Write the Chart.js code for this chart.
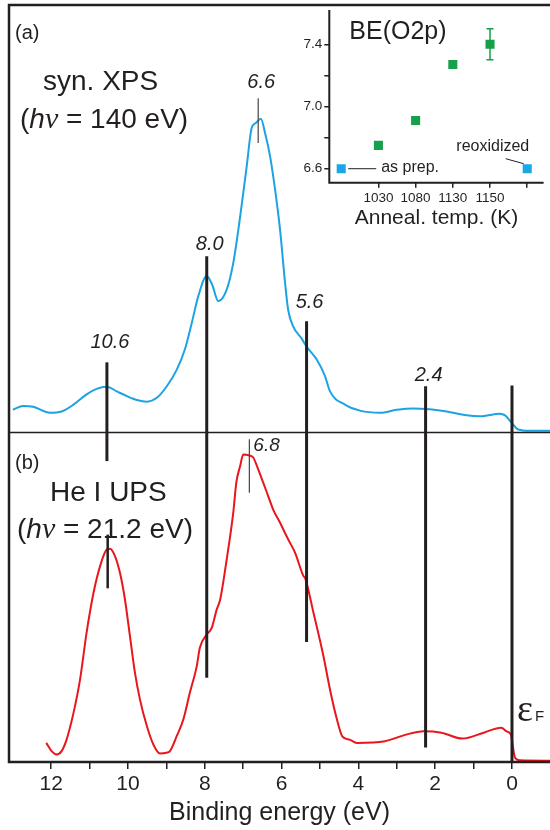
<!DOCTYPE html>
<html>
<head>
<meta charset="utf-8">
<script src="https://cdn.jsdelivr.net/npm/chart.js@4.4.0/dist/chart.umd.min.js"></script>
<style>
  html, body { margin: 0; padding: 0; background: #fff; overflow: hidden; }
  #wrap { position: relative; width: 550px; height: 830px; }
  #main { position: absolute; left: 0; top: 0; }
  #inset { position: absolute; left: 300px; top: 0; }
</style>
</head>
<body>
<div id="wrap">
  <canvas id="main" width="550" height="830"></canvas>
  <canvas id="inset" width="250" height="235"></canvas>
</div>
<script>
// binding energy (eV) vs intensity (arb. units, 0-100 per panel)
const xpsEnergy = [13.0, 12.73, 12.47, 12.03, 11.73, 11.42, 11.08, 10.82, 10.55, 10.29, 10.03, 9.77, 9.51, 9.25, 8.99, 8.73, 8.52, 8.34, 8.17, 7.95, 7.81, 7.65, 7.43, 7.26, 7.08, 6.91, 6.78, 6.67, 6.54, 6.43, 6.30, 6.17, 6.04, 5.91, 5.83, 5.70, 5.48, 5.35, 5.09, 4.87, 4.74, 4.35, 3.96, 3.44, 3.00, 2.57, 2.14, 1.70, 1.18, 0.83, 0.31, 0.18, 0.01, -0.16, -0.47, -0.99];
const xpsIntensity = [5.3, 6.2, 6.0, 4.6, 4.9, 6.5, 8.9, 10.2, 10.7, 9.6, 8.5, 7.6, 7.2, 8.1, 10.8, 14.7, 19.4, 25.6, 31.9, 36.6, 34.6, 30.7, 33.4, 39.6, 50.5, 62.2, 71.2, 72.4, 73.4, 70.0, 64.6, 56.8, 47.4, 35.0, 28.7, 24.8, 22.0, 20.1, 17.1, 13.2, 9.6, 6.5, 5.1, 4.6, 5.3, 5.6, 5.4, 4.9, 4.0, 3.8, 4.4, 4.0, 2.3, 0.7, 0.4, 0.4];

const upsEnergy = [12.13, 11.99, 11.86, 11.73, 11.60, 11.42, 11.25, 11.08, 10.90, 10.70, 10.55, 10.47, 10.34, 10.21, 10.08, 9.95, 9.82, 9.69, 9.51, 9.34, 9.17, 9.00, 8.91, 8.73, 8.56, 8.39, 8.21, 8.13, 7.95, 7.82, 7.69, 7.60, 7.43, 7.26, 7.18, 7.08, 7.00, 6.84, 6.74, 6.61, 6.48, 6.35, 6.22, 6.04, 5.87, 5.78, 5.65, 5.43, 5.39, 5.17, 4.91, 4.74, 4.57, 4.42, 4.23, 4.04, 3.31, 2.76, 2.30, 1.84, 1.29, 0.74, 0.28, 0.14, 0.03, -0.08, -0.21, -0.99];
const upsIntensity = [5.8, 3.3, 2.3, 3.3, 6.8, 14.9, 25.0, 39.2, 51.3, 60.5, 64.5, 64.7, 62.5, 57.4, 49.3, 38.2, 27.1, 19.0, 10.9, 5.3, 2.6, 2.8, 3.3, 7.9, 12.9, 21.0, 29.1, 34.7, 38.7, 40.7, 46.3, 49.3, 61.5, 75.6, 84.8, 89.8, 93.3, 93.0, 92.4, 88.8, 84.8, 80.7, 76.6, 72.6, 68.5, 66.5, 63.5, 56.4, 55.9, 45.3, 32.1, 22.0, 13.4, 7.8, 6.8, 5.8, 6.3, 8.3, 9.3, 8.9, 7.1, 8.9, 10.4, 9.3, 8.3, 1.3, 0.5, 0.4];

// long marker lines running through both panels
const peakEnergy = [10.55, 7.95, 5.35, 2.25, 0];
const peakLabel = ['10.6', '8.0', '5.6', '2.4', ''];
const peakTopXps = [16.4, 41.2, 26.0, 10.8, 11.0];
const peakLabelXps = [21.0, 43.9, 30.3, 13.3, 0];
const peakBottomUps = [91.3, 25.6, 36.4, 4.4, 0];

// short peak ticks
const xpsTickE = 6.61, xpsTickRange = [67.7, 78.2], xpsTickLabel = '6.6', xpsTickLabelY = 81.9;
const upsTickE = [6.84, 10.53];
const upsTickRange = [[81.7, 97.9], [52.7, 69.0]];
const upsTickLabel = ['6.8', ''];

const energyTicks = [0, 1, 2, 3, 4, 5, 6, 7, 8, 9, 10, 11, 12];

// inset: BE(O2p)
const annealTemp = ['as prep.', '1030', '1080', '1130', '1150', 'reoxidized'];
const beO2p = [6.60, 6.75, 6.91, 7.27, 7.40, 6.60];
const beError = [0, 0, 0, 0, 0.10, 0];
const beTicks = [6.6, 6.8, 7.0, 7.2, 7.4];

const SANS = '"Liberation Sans", Arial, Helvetica, sans-serif';
const SERIF = '"Liberation Serif", "Times New Roman", serif';
const INK = '#231f20';

function drawRuns(ctx, runs, x, y) {
  let cx = x;
  runs.forEach(([text, font]) => {
    ctx.font = font;
    ctx.fillText(text, cx, y);
    cx += ctx.measureText(text).width;
  });
}

const frame = {
  id: 'frame',
  afterDatasetsDraw(chart) {
    const { ctx, chartArea: { left, right, top, bottom } } = chart;
    const sep = chart.scales.yX.bottom;
    ctx.save();
    ctx.strokeStyle = INK;
    ctx.lineWidth = 2.5;
    ctx.beginPath();
    ctx.moveTo(right, top);
    ctx.lineTo(left, top);
    ctx.lineTo(left, bottom);
    ctx.lineTo(right, bottom);
    ctx.stroke();
    ctx.lineWidth = 1.5;
    ctx.beginPath();
    ctx.moveTo(left, sep);
    ctx.lineTo(right, sep);
    ctx.stroke();
    ctx.restore();
  }
};

const markers = {
  id: 'markers',
  afterDatasetsDraw(chart) {
    const { ctx, scales: { x, yX, yU } } = chart;
    ctx.save();
    ctx.strokeStyle = INK;
    ctx.fillStyle = INK;
    ctx.textAlign = 'center';
    ctx.textBaseline = 'middle';
    ctx.font = 'italic 20px ' + SANS;
    peakEnergy.forEach((e, i) => {
      const px = x.getPixelForValue(e);
      ctx.lineWidth = 3;
      ctx.beginPath();
      ctx.moveTo(px, yX.getPixelForValue(peakTopXps[i]));
      ctx.lineTo(px, yU.getPixelForValue(peakBottomUps[i]));
      ctx.stroke();
      if (peakLabel[i]) ctx.fillText(peakLabel[i], px + 3, yX.getPixelForValue(peakLabelXps[i]));
    });

    // thin tick on the XPS main peak
    let px = x.getPixelForValue(xpsTickE);
    ctx.lineWidth = 1.2;
    ctx.strokeStyle = '#444';
    ctx.beginPath();
    ctx.moveTo(px, yX.getPixelForValue(xpsTickRange[0]));
    ctx.lineTo(px, yX.getPixelForValue(xpsTickRange[1]));
    ctx.stroke();
    ctx.fillText(xpsTickLabel, px + 3, yX.getPixelForValue(xpsTickLabelY));

    // ticks on the UPS peaks
    upsTickE.forEach((e, i) => {
      px = x.getPixelForValue(e);
      ctx.lineWidth = i === 0 ? 1.2 : 2.5;
      ctx.strokeStyle = i === 0 ? '#444' : INK;
      ctx.beginPath();
      ctx.moveTo(px, yU.getPixelForValue(upsTickRange[i][0]));
      ctx.lineTo(px, yU.getPixelForValue(upsTickRange[i][1]));
      ctx.stroke();
      if (upsTickLabel[i]) {
        ctx.textAlign = 'left';
        ctx.font = 'italic 19px ' + SANS;
        ctx.fillText(upsTickLabel[i], px + 4, yU.getPixelForValue(upsTickRange[i][1]) + 6);
      }
    });
    ctx.restore();
  }
};

const panelText = {
  id: 'panelText',
  afterDraw(chart) {
    const ctx = chart.ctx;
    ctx.save();
    ctx.fillStyle = INK;
    ctx.textAlign = 'left';
    ctx.textBaseline = 'middle';
    ctx.font = '20px ' + SANS;
    ctx.fillText('(a)', 15, 33);
    ctx.fillText('(b)', 15, 463);
    ctx.font = '28px ' + SANS;
    ctx.fillText('syn. XPS', 43, 82);
    ctx.fillText('He I UPS', 50, 493);
    const s = '28px ' + SANS, it = 'italic 28px ' + SANS, gr = 'italic 30px ' + SERIF;
    drawRuns(ctx, [['(', s], ['h', it], ['\u03bd', gr], [' = 140 eV)', s]], 20, 120);
    drawRuns(ctx, [['(', s], ['h', it], ['\u03bd', gr], [' = 21.2 eV)', s]], 17, 530);
    ctx.font = '38px ' + SERIF;
    ctx.fillText('\u03b5', 517, 711);
    ctx.font = '15px ' + SANS;
    ctx.fillText('F', 535, 717);
    ctx.restore();
  }
};

new Chart(document.getElementById('main'), {
  type: 'line',
  data: {
    datasets: [
      {
        label: 'syn. XPS',
        data: xpsEnergy.map((e, i) => ({ x: e, y: xpsIntensity[i] })),
        yAxisID: 'yX',
        borderColor: '#1ba3e3',
        borderWidth: 2,
        pointRadius: 0,
        cubicInterpolationMode: 'monotone'
      },
      {
        label: 'He I UPS',
        data: upsEnergy.map((e, i) => ({ x: e, y: upsIntensity[i] })),
        yAxisID: 'yU',
        borderColor: '#e8161d',
        borderWidth: 2,
        pointRadius: 0,
        cubicInterpolationMode: 'monotone'
      }
    ]
  },
  options: {
    responsive: false,
    animation: false,
    events: [],
    layout: { padding: { left: 9, top: 5, right: 0, bottom: 0 } },
    plugins: { legend: { display: false }, tooltip: { enabled: false } },
    scales: {
      x: {
        type: 'linear',
        position: 'bottom',
        reverse: true,
        min: -0.99,
        max: 13.1,
        afterBuildTicks: (s) => { s.ticks = energyTicks.map(v => ({ value: v })); },
        afterFit: (s) => { s.height = 68; },
        grid: { drawOnChartArea: false, tickLength: 7, color: INK, lineWidth: 1.5 },
        border: { display: false },
        ticks: {
          padding: 3,
          color: INK,
          font: { family: SANS, size: 21 },
          maxRotation: 0,
          autoSkip: false,
          callback: (v) => (v % 2 === 0 ? String(v) : '')
        },
        title: {
          display: true,
          text: 'Binding energy (eV)',
          color: INK,
          font: { family: SANS, size: 25 },
          padding: { top: 0, bottom: 2 }
        }
      },
      // stacked panels: the one listed first ends up at the bottom
      yU: {
        type: 'linear',
        position: 'left',
        stack: 'spec',
        stackWeight: 330,
        min: 0,
        max: 100,
        ticks: { display: false },
        grid: { display: false },
        border: { display: false },
        afterFit: (s) => { s.width = 0; }
      },
      yX: {
        type: 'linear',
        position: 'left',
        stack: 'spec',
        stackWeight: 428,
        min: 0,
        max: 100,
        ticks: { display: false },
        grid: { display: false },
        border: { display: false },
        afterFit: (s) => { s.width = 0; }
      }
    }
  },
  plugins: [frame, markers, panelText]
});

// ---- inset ----
const insetDecor = {
  id: 'insetDecor',
  beforeDatasetsDraw(chart) {
    const { ctx, chartArea: { left, right, top, bottom } } = chart;
    ctx.save();
    ctx.fillStyle = '#fff';
    ctx.fillRect(left, top, right - left, bottom - top);
    ctx.strokeStyle = INK;
    ctx.lineWidth = 2;
    ctx.beginPath();
    ctx.moveTo(left, top);
    ctx.lineTo(left, bottom);
    ctx.lineTo(right, bottom);
    ctx.stroke();
    ctx.fillStyle = INK;
    ctx.textAlign = 'left';
    ctx.textBaseline = 'middle';
    ctx.font = '25px ' + SANS;
    ctx.fillText('BE(O2p)', left + 20, top + 22);
    ctx.restore();
  },
  afterDatasetsDraw(chart) {
    const { ctx, scales: { x, y } } = chart;
    ctx.save();
    // error bars
    ctx.strokeStyle = '#16a04b';
    ctx.lineWidth = 1.5;
    beError.forEach((err, i) => {
      if (!err) return;
      const px = x.getPixelForValue(i);
      const y1 = y.getPixelForValue(beO2p[i] + err), y2 = y.getPixelForValue(beO2p[i] - err);
      ctx.beginPath();
      ctx.moveTo(px, y1); ctx.lineTo(px, y2);
      ctx.moveTo(px - 3.5, y1); ctx.lineTo(px + 3.5, y1);
      ctx.moveTo(px - 3.5, y2); ctx.lineTo(px + 3.5, y2);
      ctx.stroke();
    });
    // annotations
    ctx.strokeStyle = INK;
    ctx.fillStyle = INK;
    ctx.lineWidth = 1;
    ctx.font = '16px ' + SANS;
    ctx.textBaseline = 'middle';
    const ax = x.getPixelForValue(0), ay = y.getPixelForValue(beO2p[0]);
    ctx.beginPath(); ctx.moveTo(ax + 7, ay); ctx.lineTo(ax + 35, ay); ctx.stroke();
    ctx.textAlign = 'left';
    ctx.fillText(annealTemp[0], ax + 40, ay - 1.5);
    const rx = x.getPixelForValue(5), ry = y.getPixelForValue(beO2p[5]);
    ctx.beginPath(); ctx.moveTo(rx - 21.5, ry - 10); ctx.lineTo(rx - 3.5, ry - 5); ctx.stroke();
    ctx.textAlign = 'right';
    ctx.fillText(annealTemp[5], rx + 2, ry - 22.5);
    ctx.restore();
  }
};

new Chart(document.getElementById('inset'), {
  type: 'scatter',
  data: {
    datasets: [
      {
        label: 'reference',
        data: [0, 5].map(i => ({ x: i, y: beO2p[i] })),
        pointStyle: 'rect',
        pointRadius: 6.4,
        backgroundColor: '#1aa7e8',
        borderWidth: 0
      },
      {
        label: 'annealed',
        data: [1, 2, 3, 4].map(i => ({ x: i, y: beO2p[i] })),
        pointStyle: 'rect',
        pointRadius: 6.4,
        backgroundColor: '#16a04b',
        borderWidth: 0
      }
    ]
  },
  options: {
    responsive: false,
    animation: false,
    events: [],
    layout: { padding: { left: 0, top: 5, right: 0, bottom: 0 } },
    plugins: { legend: { display: false }, tooltip: { enabled: false } },
    scales: {
      x: {
        type: 'linear',
        min: -0.32,
        max: 5.44,
        afterBuildTicks: (s) => { s.ticks = [1, 2, 3, 4, 5].map(v => ({ value: v })); },
        afterFit: (s) => { s.height = 52.3; },
        grid: { drawOnChartArea: false, tickLength: 5, color: INK, lineWidth: 1.5 },
        border: { display: false },
        ticks: {
          padding: 2,
          color: INK,
          font: { family: SANS, size: 13.5 },
          maxRotation: 0,
          autoSkip: false,
          callback: (v) => (v >= 1 && v <= 4 ? annealTemp[v] : '')
        },
        title: {
          display: true,
          text: 'Anneal. temp. (K)',
          color: INK,
          font: { family: SANS, size: 21 },
          padding: { top: 0, bottom: 4 }
        }
      },
      y: {
        type: 'linear',
        min: 6.51,
        max: 7.62,
        afterBuildTicks: (s) => { s.ticks = beTicks.map(v => ({ value: v })); },
        afterFit: (s) => { s.width = 29.3; },
        grid: { drawOnChartArea: false, tickLength: 5, color: INK, lineWidth: 1.5 },
        border: { display: false },
        ticks: {
          padding: 2,
          color: INK,
          font: { family: SANS, size: 13.5 },
          autoSkip: false,
          callback: (v) => ([6.6, 7.0, 7.4].some(t => Math.abs(t - v) < 1e-6) ? v.toFixed(1) : '')
        }
      }
    }
  },
  plugins: [insetDecor]
});
</script>
</body>
</html>
